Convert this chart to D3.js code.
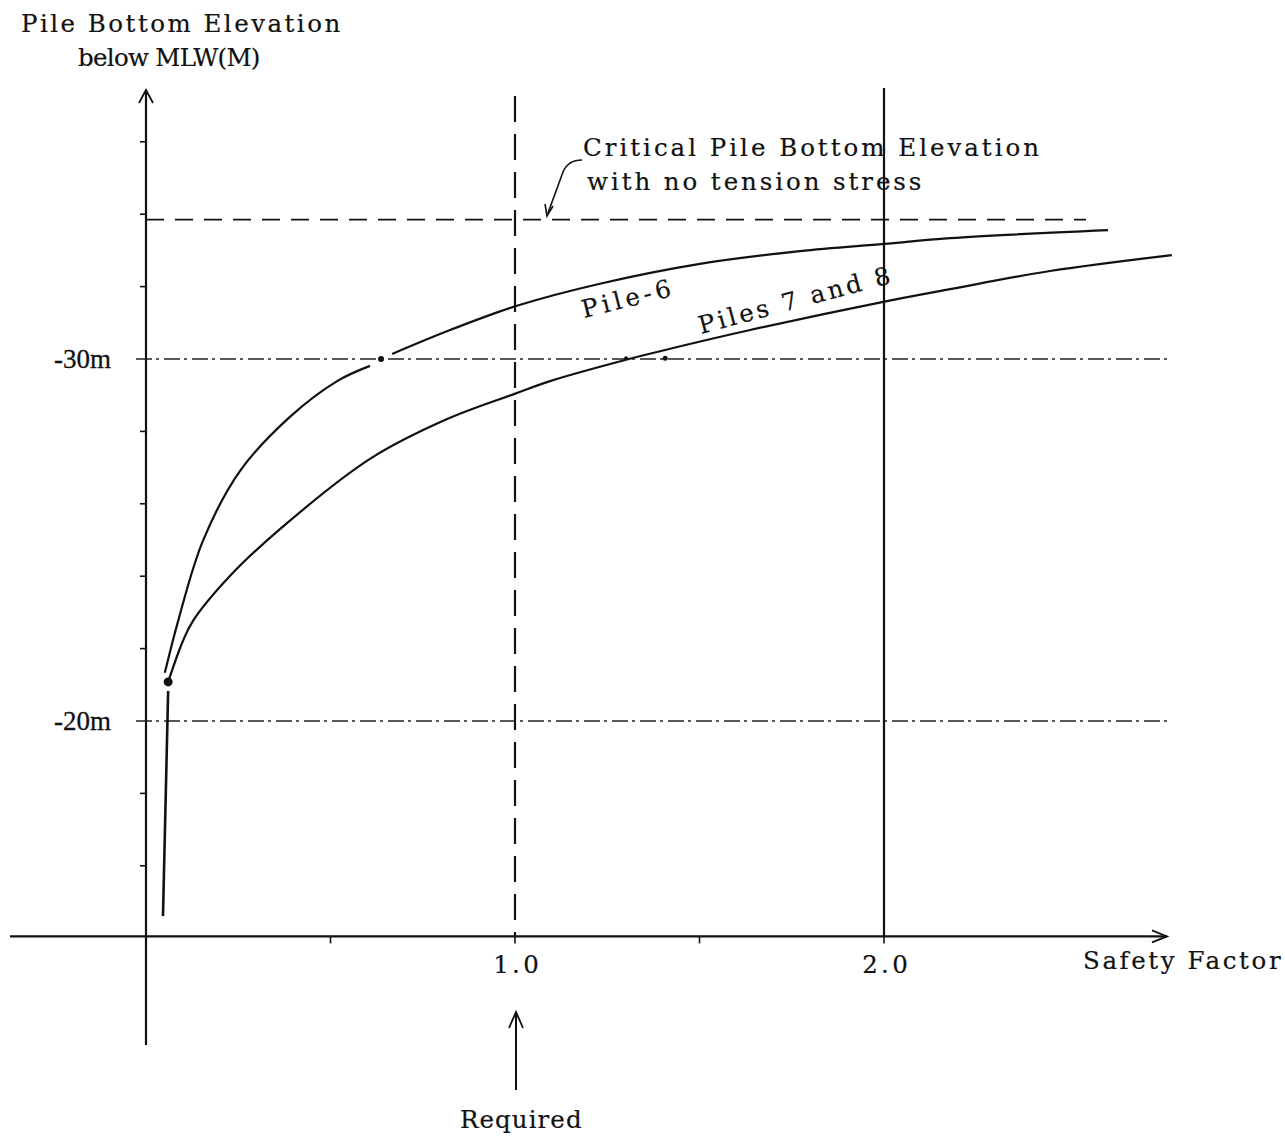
<!DOCTYPE html>
<html>
<head>
<meta charset="utf-8">
<script src="https://cdn.jsdelivr.net/npm/d3@7"></script>
<style>
  html, body { margin: 0; padding: 0; background: #fff; }
  svg { display: block; }
  .tw { font-family: "DejaVu Serif", "Liberation Serif", serif; font-size: 24.5px; fill: #111; stroke: #111; stroke-width: 0.2px; }
  .num { font-family: "Liberation Serif", "Times New Roman", serif; font-size: 27px; fill: #111; stroke: #111; stroke-width: 0.3px; }
</style>
</head>
<body>
<svg id="chart" width="1285" height="1138"></svg>
<script>
// ---------------- data (safety factor, elevation in m below MLW) ----------------
const pile6Lower = [
  {sf: 0.051, elev: -21.33}, {sf: 0.087, elev: -22.76}, {sf: 0.154, elev: -24.97},
  {sf: 0.255, elev: -26.91}, {sf: 0.390, elev: -28.40}, {sf: 0.518, elev: -29.39},
  {sf: 0.607, elev: -29.81}
];
const pile6Upper = [
  {sf: 0.667, elev: -30.14}, {sf: 0.824, elev: -30.80}, {sf: 1.005, elev: -31.47},
  {sf: 1.230, elev: -32.08}, {sf: 1.501, elev: -32.63}, {sf: 1.772, elev: -32.98},
  {sf: 2.000, elev: -33.18}, {sf: 2.179, elev: -33.34}, {sf: 2.607, elev: -33.56}
];
const piles78 = [
  {sf: 0.060, elev: -21.08}, {sf: 0.100, elev: -22.21}, {sf: 0.127, elev: -22.76},
  {sf: 0.228, elev: -24.01}, {sf: 0.363, elev: -25.30}, {sf: 0.607, elev: -27.24},
  {sf: 0.816, elev: -28.34}, {sf: 0.997, elev: -29.03}, {sf: 1.095, elev: -29.39},
  {sf: 1.301, elev: -29.98}, {sf: 1.407, elev: -30.25}, {sf: 1.637, elev: -30.80},
  {sf: 2.008, elev: -31.60}, {sf: 2.179, elev: -31.93}, {sf: 2.450, elev: -32.43},
  {sf: 2.780, elev: -32.87}
];
const piles78Stem = [{sf: 0.060, elev: -20.83}, {sf: 0.046, elev: -14.61}];
const markedPoints = [
  {sf: 0.637, elev: -30.0, r: 3},
  {sf: 0.060, elev: -21.08, r: 4.5},
  {sf: 1.301, elev: -30.02, r: 2},
  {sf: 1.407, elev: -30.02, r: 2.5}
];
const criticalElev = -33.85;
const requiredSF = 1.0;
const gridElevs = [-30, -20];
const yTickLabels = ["-30m", "-20m"];
const yMinorTicks = [-16, -18, -22, -24, -26, -28, -32, -34, -36];
const xTickValues = [1.0, 2.0];
const xTickLabels = ["1.0", "2.0"];
const xMinorTicks = [0.5, 1.5];

// ---------------- scales ----------------
const svg = d3.select("#chart");
const x = d3.scaleLinear().domain([0, 2]).range([146, 884]);
const y = d3.scaleLinear().domain([-20, -30]).range([721, 359]);
const axisElev = -14.05;
const y0 = y(axisElev);
const x0 = x(0);
const CH = 15.2; // typewriter pitch (px per character)

const line = d3.line().x(d => x(d.sf)).y(d => y(d.elev)).curve(d3.curveCatmullRom.alpha(0.5));
const straight = d3.line().x(d => x(d.sf)).y(d => y(d.elev));

function tw(txt, attrs) {
  const t = svg.append("text").attr("class", "tw")
    .attr("textLength", txt.length * CH).attr("lengthAdjust", "spacing").text(txt);
  Object.entries(attrs).forEach(([k, v]) => t.attr(k, v));
  return t;
}

// ---------------- grid / reference lines ----------------
svg.selectAll("line.grid").data(gridElevs).enter().append("line")
  .attr("class", "grid")
  .attr("x1", x0 - 10).attr("x2", 1171)
  .attr("y1", d => y(d)).attr("y2", d => y(d))
  .attr("stroke", "#222").attr("stroke-width", 1.3)
  .attr("stroke-dasharray", "16,4,3,5");

svg.append("line")
  .attr("x1", x0).attr("x2", 1086)
  .attr("y1", y(criticalElev)).attr("y2", y(criticalElev))
  .attr("stroke", "#111").attr("stroke-width", 1.6)
  .attr("stroke-dasharray", "18,11");

svg.append("line")
  .attr("x1", x(requiredSF)).attr("x2", x(requiredSF))
  .attr("y1", 96).attr("y2", y0)
  .attr("stroke", "#111").attr("stroke-width", 2.2)
  .attr("stroke-dasharray", "26,12");

svg.append("line")
  .attr("x1", x(2)).attr("x2", x(2))
  .attr("y1", 88).attr("y2", y0)
  .attr("stroke", "#111").attr("stroke-width", 2.2);

// ---------------- axes ----------------
svg.append("line").attr("x1", x0).attr("x2", x0).attr("y1", 1045).attr("y2", 90)
  .attr("stroke", "#111").attr("stroke-width", 2.2);
svg.append("path").attr("d", `M${x0 - 7},${103} L${x0},${90} L${x0 + 7},${103}`)
  .attr("fill", "none").attr("stroke", "#111").attr("stroke-width", 1.8);
svg.append("line").attr("x1", 10).attr("x2", 1167).attr("y1", y0).attr("y2", y0)
  .attr("stroke", "#111").attr("stroke-width", 2.2);
svg.append("path").attr("d", `M${1152},${y0 - 6} L${1167},${y0} L${1152},${y0 + 6}`)
  .attr("fill", "none").attr("stroke", "#111").attr("stroke-width", 1.8);

svg.selectAll("line.ytick").data(yMinorTicks).enter().append("line")
  .attr("x1", x0 - 6).attr("x2", x0).attr("y1", d => y(d)).attr("y2", d => y(d))
  .attr("stroke", "#111").attr("stroke-width", 1.6);
svg.selectAll("text.ylab").data(gridElevs).enter().append("text")
  .attr("class", "num").attr("x", 111).attr("y", d => y(d) + 9)
  .attr("text-anchor", "end").text((d, i) => yTickLabels[i]);

svg.selectAll("line.xtick").data(xMinorTicks.concat(xTickValues)).enter().append("line")
  .attr("x1", d => x(d)).attr("x2", d => x(d)).attr("y1", y0).attr("y2", y0 + 7)
  .attr("stroke", "#111").attr("stroke-width", 1.6);
xTickValues.forEach((v, i) => {
  tw(xTickLabels[i], {x: x(v) + 1 - xTickLabels[i].length * CH / 2, y: 973});
});

// ---------------- curves ----------------
[pile6Lower, pile6Upper, piles78].forEach(s => {
  svg.append("path").attr("d", line(s))
    .attr("fill", "none").attr("stroke", "#111").attr("stroke-width", 2.2);
});
svg.append("path").attr("d", straight(piles78Stem))
  .attr("fill", "none").attr("stroke", "#111").attr("stroke-width", 2.6);

svg.selectAll("circle.pt").data(markedPoints).enter().append("circle")
  .attr("cx", d => x(d.sf)).attr("cy", d => y(d.elev)).attr("r", d => d.r).attr("fill", "#111");

// ---------------- labels ----------------
tw("Pile Bottom Elevation", {x: 21, y: 32});
tw("below MLW(M)", {x: 78, y: 66});
tw("Safety Factor", {x: 1083, y: 969});
tw("Required", {x: 460, y: 1128});
tw("Critical Pile Bottom Elevation", {x: 583, y: 156});
tw("with no tension stress", {x: 587, y: 190});

tw("Pile-6", {transform: "translate(584,318) rotate(-14)"});
tw("Piles 7 and 8", {transform: "translate(701,334) rotate(-15)"});

// leader for critical line
svg.append("path").attr("d", "M582,160 Q568,160 563,172 L548,213")
  .attr("fill", "none").attr("stroke", "#111").attr("stroke-width", 1.6);
svg.append("path").attr("d", "M545,204 L547,216 L553,206")
  .attr("fill", "none").attr("stroke", "#111").attr("stroke-width", 1.6);

// Required arrow
svg.append("line").attr("x1", 516).attr("x2", 516).attr("y1", 1090).attr("y2", 1012)
  .attr("stroke", "#111").attr("stroke-width", 2);
svg.append("path").attr("d", "M509,1028 L516,1012 L523,1028")
  .attr("fill", "none").attr("stroke", "#111").attr("stroke-width", 1.8);
</script>
</body>
</html>
